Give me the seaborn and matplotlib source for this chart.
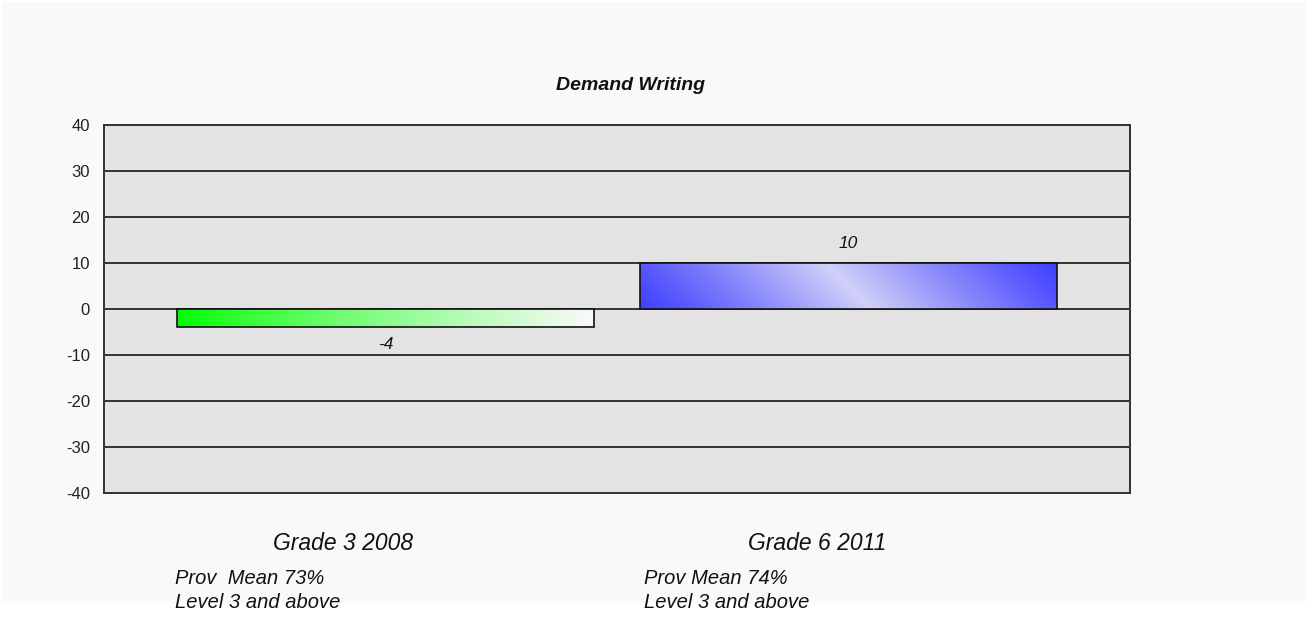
import numpy as np
import pandas as pd
import matplotlib
matplotlib.use("Agg")
import matplotlib.pyplot as plt
from matplotlib.patches import Rectangle
import seaborn as sns

# Chart data
categories = ["Grade 3 2008", "Grade 6 2011"]
values = [-4, 10]
value_labels = ["-4", "10"]
prov_mean_lines = ["Prov  Mean 73%", "Prov Mean 74%"]
level_line = "Level 3 and above"
y_ticks = [-40, -30, -20, -10, 0, 10, 20, 30, 40]
title = "Demand Writing"

W, H = 1309, 617
sns.set_theme(style="white")
plt.rcParams["font.family"] = ["Liberation Sans", "DejaVu Sans"]

fig = plt.figure(figsize=(W / 100, H / 100), dpi=100, facecolor="white")
# light panel behind the chart
fig.patches.append(Rectangle((2 / W, 1 - 603 / H), 1304 / W, 601 / H,
                             transform=fig.transFigure, facecolor="#f9f9f9",
                             edgecolor="none", zorder=-10))

ax = fig.add_axes([104 / W, 1 - 493 / H, 1026 / W, 368 / H])
df = pd.DataFrame({"category": categories, "value": values})
sns.barplot(data=df, x="category", y="value", ax=ax, width=0.9,
            color="#4040ff", edgecolor="#111111", linewidth=1.2, zorder=3)

ax.set_facecolor("#e3e3e3")
ax.set_xlim(-0.608, 1.608)
ax.set_ylim(-40, 40)
ax.set_yticks(y_ticks)
ax.set_yticklabels([str(t) for t in y_ticks], fontsize=12, color="#222222")
ax.tick_params(axis="y", length=0, pad=10)
ax.set_xticks([])
ax.set_xlabel("")
ax.set_ylabel("")
ax.yaxis.grid(True, color="#333333", linewidth=1.4, zorder=0)
ax.set_axisbelow(True)
for s in ax.spines.values():
    s.set_visible(True)
    s.set_color("#333333")
    s.set_linewidth(1.4)

fig.canvas.draw()


def green_fade(h, w):
    t = np.linspace(0, 1, w)[None, :, None]
    start = np.array([0, 255, 0]) / 255
    end = np.array([250, 250, 250]) / 255
    img = start + (end - start) * t ** 0.85
    return np.repeat(img, h, axis=0)


def blue_sheen(h, w):
    xx, yy = np.meshgrid(np.arange(w), np.arange(h))
    # diagonal bands running top-left to bottom-right
    s = xx + (h - 1 - yy)
    t = s / s.max()
    k = 1 - np.abs(2 * t - 1)
    k = np.clip(k, 0, 1) ** 1.1
    dark = np.array([64, 64, 255]) / 255
    light = np.array([208, 208, 248]) / 255
    return dark + (light - dark) * k[..., None]


makers = [green_fade, blue_sheen]
for patch, make in zip(ax.patches, makers):
    x0, y0 = patch.get_x(), patch.get_y()
    bw, bh = patch.get_width(), patch.get_height()
    (px0, py0), (px1, py1) = ax.transData.transform([(x0, y0), (x0 + bw, y0 + bh)])
    pw, ph = int(round(abs(px1 - px0))), int(round(abs(py1 - py0)))
    img = make(max(ph, 2), max(pw, 2))
    ext = [x0, x0 + bw, min(y0, y0 + bh), max(y0, y0 + bh)]
    im = ax.imshow(img, extent=ext, aspect="auto", origin="upper",
                   interpolation="bilinear", zorder=3)
    im.set_clip_path(patch)
    patch.set_facecolor("none")
    patch.set_zorder(4)

# value labels at bar ends
for patch, v, lab in zip(ax.patches, values, value_labels):
    cx = patch.get_x() + patch.get_width() / 2
    off = 14 if v >= 0 else -12.5
    ax.annotate(lab, (cx, v), xytext=(0, off), textcoords="offset points",
                ha="center", va="center", fontsize=12.5, style="italic",
                color="#111111", zorder=6)

fig.text(630 / W, 1 - 86 / H, title, ha="center", va="center",
         fontsize=14, fontweight="bold", style="italic", color="#111111")

cat_x = [343.5, 817]
prov_x = [175, 644]
for cx, px, cat, pm in zip(cat_x, prov_x, categories, prov_mean_lines):
    fig.text(cx / W, 1 - 543 / H, cat, ha="center", va="center",
             fontsize=16.5, style="italic", color="#111111")
    fig.text(px / W, 1 - 578 / H, pm, ha="left", va="center",
             fontsize=14.5, style="italic", color="#111111")
    fig.text(px / W, 1 - 603 / H, level_line, ha="left", va="center",
             fontsize=14.5, style="italic", color="#111111")

fig.savefig("out.png", dpi=100, facecolor=fig.get_facecolor())
